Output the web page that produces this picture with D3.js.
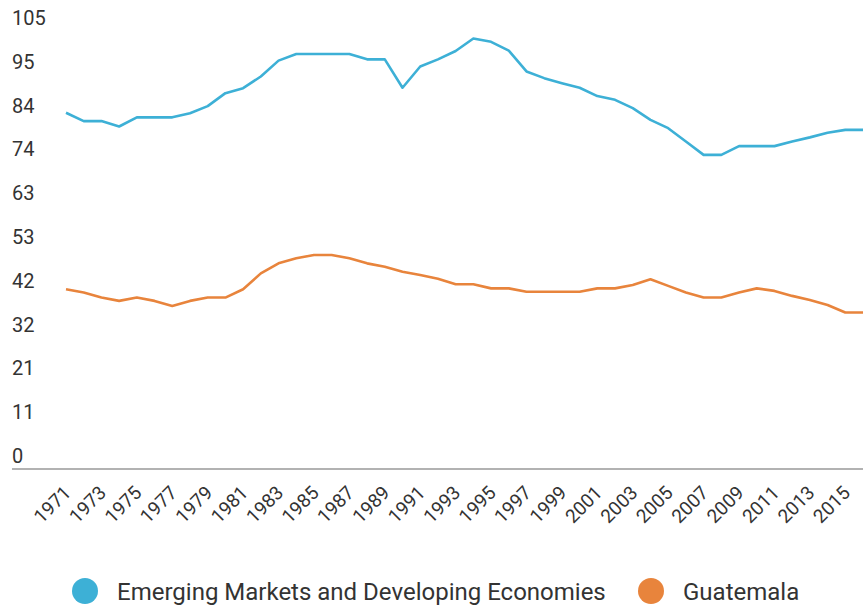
<!DOCTYPE html>
<html><head><meta charset="utf-8">
<script src="https://cdn.jsdelivr.net/npm/d3@7"></script>
<style>body{margin:0;background:#fff}svg{display:block}text{font-family:Roboto,"Noto Sans",sans-serif}</style>
</head><body><svg id="c" width="863" height="606"></svg>
<script>
const years = d3.range(1971, 2017);
const emde = [85.4,83.4,83.4,82.1,84.3,84.3,84.3,85.3,87.0,90.1,91.3,94.1,97.9,99.5,99.5,99.5,99.5,98.2,98.2,91.4,96.5,98.2,100.2,103.2,102.4,100.3,95.3,93.7,92.5,91.4,89.4,88.5,86.5,83.7,81.7,78.5,75.3,75.3,77.4,77.4,77.4,78.5,79.5,80.6,81.3,81.3];
const guatemala = [43.1,42.3,41.1,40.3,41.1,40.3,39.1,40.3,41.1,41.1,43.1,46.9,49.3,50.5,51.3,51.3,50.5,49.3,48.5,47.3,46.5,45.6,44.3,44.3,43.3,43.3,42.5,42.5,42.5,42.5,43.3,43.3,44.1,45.5,43.9,42.3,41.1,41.1,42.3,43.3,42.7,41.5,40.5,39.3,37.5,37.5];
const seriesNames = ["Emerging Markets and Developing Economies","Guatemala"];
const seriesColors = ["#3db0d6","#e8843c"];
const yTickValues = [0,10.5,21,31.5,42,52.5,63,73.5,84,94.5,105];
const yTickLabels = ["0","11","21","32","42","53","63","74","84","95","105"];
const xTickLabels = d3.range(1971, 2016, 2);

const svg = d3.select("#c");
const x = d3.scalePoint().domain(years).range([66, 863]);
const y = d3.scaleLinear().domain([0, 105]).range([469, 31]);

// y labels (above gridline positions)
svg.append("g").selectAll("text").data(yTickValues).join("text")
  .attr("x", 12).attr("y", d => y(d) - 6)
  .attr("font-size", 20).attr("fill", "#333")
  .text((d, i) => yTickLabels[i]);

// baseline
svg.append("line").attr("x1", 12).attr("x2", 863).attr("y1", y(0)).attr("y2", y(0))
  .attr("stroke", "#999").attr("stroke-width", 1.5);

// x labels
svg.append("g").selectAll("text").data(xTickLabels).join("text")
  .attr("transform", d => `translate(${x(d)+6},${y(0)+25}) rotate(-45)`)
  .attr("text-anchor", "end").attr("font-size", 19).attr("fill", "#333")
  .text(d => d);

const line = d3.line().x((d, i) => x(years[i])).y(d => y(d));
[emde, guatemala].forEach((s, k) => {
  svg.append("path").datum(s).attr("d", line).attr("fill", "none")
    .attr("stroke", seriesColors[k]).attr("stroke-width", 2.6)
    .attr("stroke-linejoin", "round");
});

// legend
const lg = svg.append("g");
const lx = [85, 651];
seriesNames.forEach((n, k) => {
  lg.append("circle").attr("cx", lx[k]).attr("cy", 591).attr("r", 13).attr("fill", seriesColors[k]);
  lg.append("text").attr("x", lx[k] + 32).attr("y", 600).attr("font-size", 24).attr("fill", "#333").text(n);
});
</script></body></html>
